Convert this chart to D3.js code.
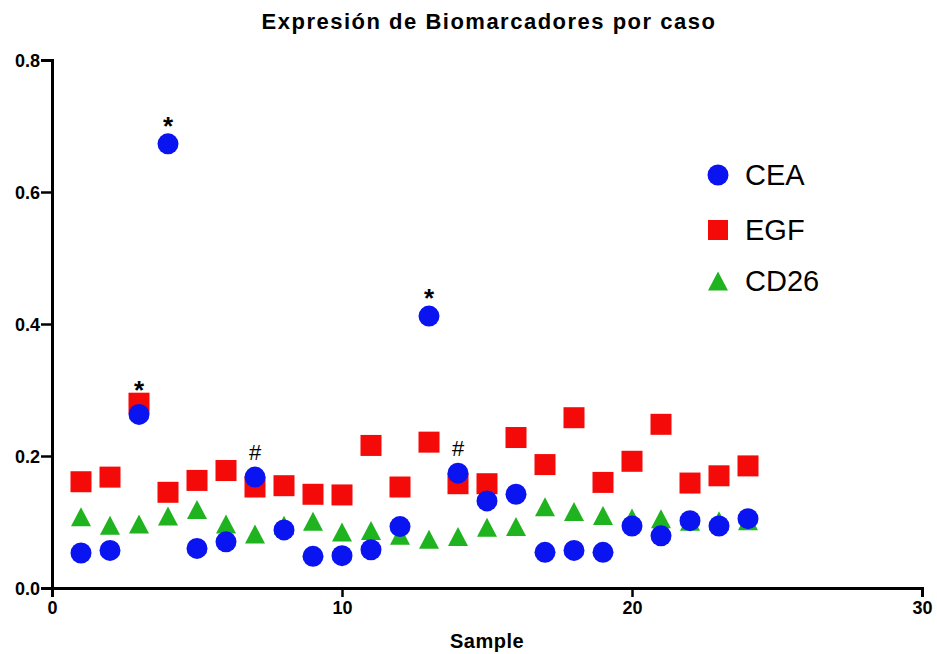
<!DOCTYPE html>
<html>
<head>
<meta charset="utf-8">
<script src="https://cdn.jsdelivr.net/npm/d3@7"></script>
<style>
  body { margin: 0; background: #fff; }
  text { font-family: "Liberation Sans", Arial, sans-serif; }
</style>
</head>
<body>
<script>
// datos
const samples = d3.range(1, 25);
const cea  = [0.053,0.057,0.263,0.673,0.060,0.070,0.168,0.088,0.048,0.049,0.058,0.093,0.412,0.174,0.132,0.142,0.054,0.057,0.054,0.094,0.079,0.102,0.094,0.105];
const egf  = [0.161,0.168,0.280,0.145,0.163,0.178,0.153,0.155,0.142,0.141,0.216,0.153,0.221,0.158,0.158,0.228,0.187,0.258,0.160,0.192,0.248,0.159,0.170,0.185];
const cd26 = [0.108,0.095,0.097,0.109,0.119,0.097,0.082,0.095,0.101,0.085,0.087,0.080,0.074,0.078,0.092,0.093,0.123,0.116,0.110,0.106,0.105,0.101,0.102,0.102];
const seriesNames = ["CEA", "EGF", "CD26"];
const xTicks = [0, 10, 20, 30];
const yTicks = [0, 0.2, 0.4, 0.6, 0.8];
// marcas de significancia
const marks = [
  { sample: 3, label: "*" },
  { sample: 4, label: "*" },
  { sample: 13, label: "*" },
  { sample: 7, label: "#" },
  { sample: 14, label: "#" }
];

const width = 937, height = 654;
const margin = { top: 60, right: 15, bottom: 66, left: 52 };

const svg = d3.select("body").append("svg")
  .attr("width", width)
  .attr("height", height);

const x = d3.scaleLinear().domain([0, 30]).range([margin.left, width - margin.right]);
const y = d3.scaleLinear().domain([0, 0.8]).range([height - margin.bottom, margin.top]);

// ejes
const xAxis = svg.append("g")
  .attr("transform", `translate(0,${y(0)})`)
  .call(d3.axisBottom(x).tickValues(xTicks).tickSize(9).tickPadding(4).tickFormat(d3.format("d")));
const yAxis = svg.append("g")
  .attr("transform", `translate(${x(0)},0)`)
  .call(d3.axisLeft(y).tickValues(yTicks).tickSize(11).tickPadding(1).tickFormat(d3.format(".1f")));

[xAxis, yAxis].forEach(g => {
  g.select(".domain").attr("stroke", "#000").attr("stroke-width", 3);
  g.selectAll(".tick line").attr("stroke", "#000").attr("stroke-width", 2.5);
  g.selectAll(".tick text")
    .attr("fill", "#000")
    .style("font-size", "18px")
    .style("font-weight", "bold");
});
yAxis.selectAll(".tick text").attr("dy", "0.36em");

// título y etiqueta
svg.append("text")
  .attr("x", 489).attr("y", 29)
  .attr("text-anchor", "middle")
  .style("font-size", "22px").style("font-weight", "bold")
  .style("letter-spacing", "1.5px")
  .text("Expresión de Biomarcadores por caso");
svg.append("text")
  .attr("x", (x(0) + x(30)) / 2).attr("y", 648)
  .attr("text-anchor", "middle")
  .style("font-size", "20px").style("font-weight", "bold")
  .style("letter-spacing", "0.5px")
  .text("Sample");

// triángulo centrado en su caja
const tri = (cx, cy, w, h) => `M${cx},${cy - h / 2}L${cx + w / 2},${cy + h / 2}L${cx - w / 2},${cy + h / 2}Z`;

// CD26
svg.append("g").selectAll("path")
  .data(samples)
  .join("path")
  .attr("d", (d, i) => tri(x(d), y(cd26[i]), 20, 19))
  .attr("fill", "#1fb31f");

// EGF
svg.append("g").selectAll("rect")
  .data(samples)
  .join("rect")
  .attr("x", d => x(d) - 10.5)
  .attr("y", (d, i) => y(egf[i]) - 10.5)
  .attr("width", 21).attr("height", 21)
  .attr("fill", "#f50a0a");

// CEA
svg.append("g").selectAll("circle")
  .data(samples)
  .join("circle")
  .attr("cx", d => x(d))
  .attr("cy", (d, i) => y(cea[i]))
  .attr("r", 10.5)
  .attr("fill", "#0a14f0");

// anotaciones
svg.append("g").selectAll("text")
  .data(marks)
  .join("text")
  .attr("x", d => x(d.sample))
  .attr("y", d => {
    const i = d.sample - 1;
    const top = y(Math.max(cea[i], egf[i]));
    return d.label === "*" ? top - (cea[i] >= egf[i] ? 9 : 4) : top - 17;
  })
  .attr("text-anchor", "middle")
  .style("font-size", d => d.label === "*" ? "26px" : "22px")
  .style("font-weight", d => d.label === "*" ? "bold" : "normal")
  .text(d => d.label);

// leyenda
const legend = svg.append("g");
const ly = [175, 230, 281];
seriesNames.forEach((name, k) => {
  const cx = 718, cy = ly[k];
  if (k === 0) legend.append("circle").attr("cx", cx).attr("cy", cy).attr("r", 10.5).attr("fill", "#0a14f0");
  if (k === 1) legend.append("rect").attr("x", cx - 10).attr("y", cy - 10).attr("width", 20).attr("height", 20).attr("fill", "#f50a0a");
  if (k === 2) legend.append("path").attr("d", tri(cx, cy, 20, 19)).attr("fill", "#1fb31f");
  legend.append("text")
    .attr("x", 745).attr("y", cy)
    .attr("dy", "0.36em")
    .style("font-size", "29px")
    .text(name);
});
</script>
</body>
</html>
